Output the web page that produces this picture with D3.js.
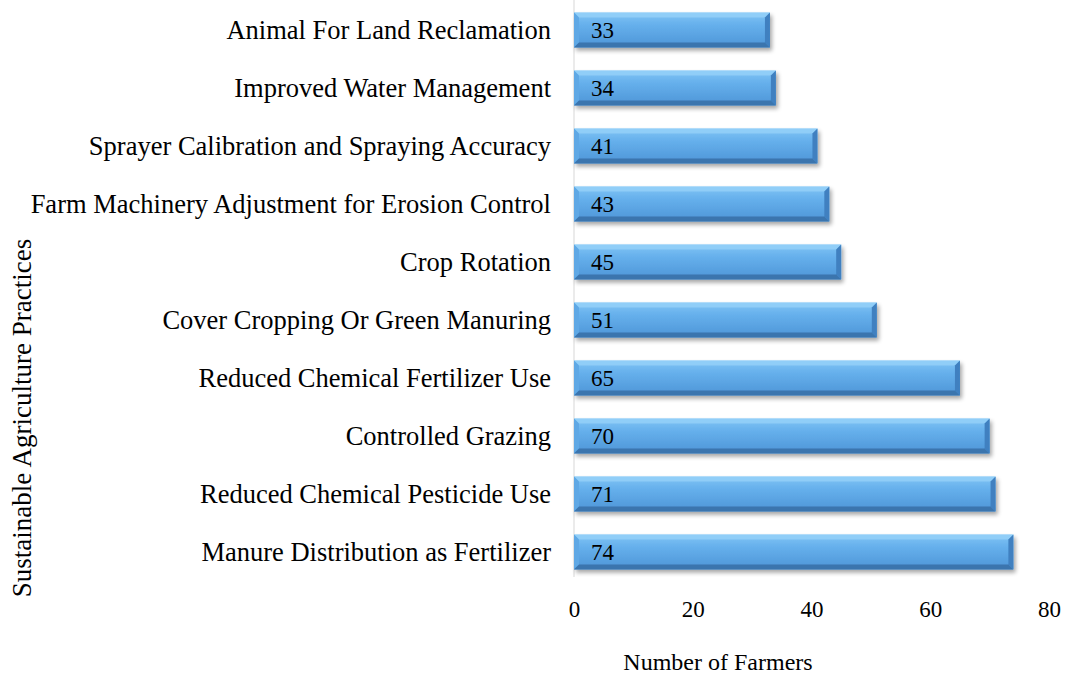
<!DOCTYPE html>
<html><head><meta charset="utf-8">
<script src="https://cdn.jsdelivr.net/npm/d3@7"></script>
<style>body{margin:0;background:#fff}svg{display:block;font-family:"Liberation Serif","Times New Roman",serif}</style>
</head><body><svg id="c" width="1068" height="677"></svg>
<script>
const categories = ["Animal For Land Reclamation","Improved Water Management","Sprayer Calibration and Spraying Accuracy","Farm Machinery Adjustment for Erosion Control","Crop Rotation","Cover Cropping Or Green Manuring","Reduced Chemical Fertilizer Use","Controlled Grazing","Reduced Chemical Pesticide Use","Manure Distribution as Fertilizer"];
const values = [33,34,41,43,45,51,65,70,71,74];
const xTicks = [0,20,40,60,80];
const xTitle = "Number of Farmers";
const yTitle = "Sustainable Agriculture Practices";

const svg = d3.select("#c");
const x = d3.scaleLinear().domain([0,80]).range([574,1049]);
const y = d3.scaleBand().domain(categories).range([1,581]).paddingInner(0.4).paddingOuter(0.2);

const defs = svg.append("defs");
const g = defs.append("linearGradient").attr("id","bg").attr("x1",0).attr("y1",0).attr("x2",0).attr("y2",1);
[[0,"#80c4f5"],[0.35,"#66b0ec"],[1,"#4d95d7"]].forEach(([o,c])=>g.append("stop").attr("offset",o).attr("stop-color",c));
const f = defs.append("filter").attr("id","sh").attr("x","-5%").attr("y","-20%").attr("width","115%").attr("height","160%");
f.append("feGaussianBlur").attr("in","SourceAlpha").attr("stdDeviation",2);
f.append("feOffset").attr("dx",2).attr("dy",3).attr("result","b");
f.append("feComponentTransfer").append("feFuncA").attr("type","linear").attr("slope",0.35);
const m = f.append("feMerge"); m.append("feMergeNode"); m.append("feMergeNode").attr("in","SourceGraphic");

svg.append("line").attr("x1",x(0)).attr("x2",x(0)).attr("y1",0).attr("y2",y.range()[1]-4).attr("stroke","#e4e4e4").attr("stroke-width",1.5);

const bw = 5;
const bars = svg.append("g").selectAll("g").data(values).join("g").attr("filter","url(#sh)");
bars.each(function(v,i){
  const s = d3.select(this);
  const x0 = x(0), x1 = x(v), y0 = y(categories[i]), h = y.bandwidth(), y1 = y0+h;
  s.append("rect").attr("x",x0).attr("y",y0).attr("width",x1-x0).attr("height",h).attr("fill","url(#bg)");
  s.append("path").attr("d",`M${x0},${y0}L${x1},${y0}L${x1-bw},${y0+bw}L${x0+bw},${y0+bw}Z`).attr("fill","#94d0f8").attr("opacity",0.85);
  s.append("path").attr("d",`M${x0},${y0}L${x0+bw},${y0+bw}L${x0+bw},${y1-bw}L${x0},${y1}Z`).attr("fill","#5ea8e5");
  s.append("path").attr("d",`M${x1},${y0}L${x1},${y1}L${x1-bw},${y1-bw}L${x1-bw},${y0+bw}Z`).attr("fill","#3f80c0");
  s.append("path").attr("d",`M${x0},${y1}L${x1},${y1}L${x1-bw},${y1-bw}L${x0+bw},${y1-bw}Z`).attr("fill","#3b74ae");
});

svg.append("g").selectAll("text").data(values).join("text")
  .attr("x",x(0)+17).attr("y",(d,i)=>y(categories[i])+y.bandwidth()/2).attr("dy","0.35em")
  .attr("font-size",23).attr("fill","#000").text(d=>d);

svg.append("g").selectAll("text").data(categories).join("text")
  .attr("x",551).attr("y",d=>y(d)+y.bandwidth()/2).attr("dy","0.35em").attr("text-anchor","end")
  .attr("font-size",26.5).attr("fill","#000").text(d=>d);

const ax = svg.append("g").attr("transform","translate(0,609)")
  .call(d3.axisBottom(x).tickValues(xTicks).tickSize(0).tickPadding(0));
ax.select(".domain").remove();
ax.selectAll("text").attr("font-size",23).attr("font-family","Liberation Serif").attr("fill","#000").attr("dy","0.35em");

svg.append("text").attr("x",718).attr("y",662).attr("dy","0.35em").attr("text-anchor","middle").attr("font-size",24).attr("fill","#000").text(xTitle);
svg.append("text").attr("transform","translate(22,418) rotate(-90)").attr("dy","0.35em").attr("text-anchor","middle").attr("font-size",27).attr("fill","#000").text(yTitle);
</script></body></html>
